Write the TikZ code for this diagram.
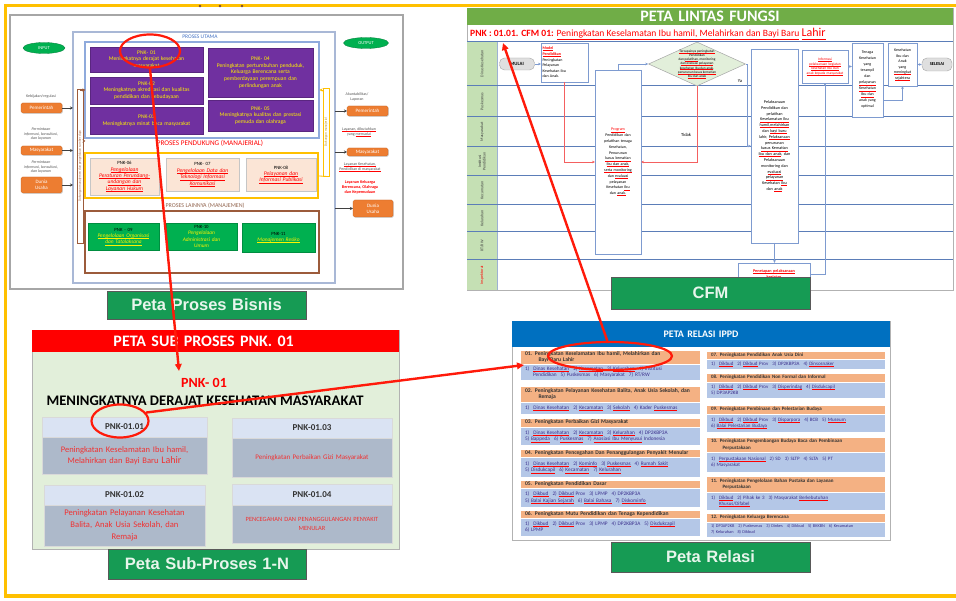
\documentclass[tikz,border=0pt]{standalone}
\usepackage{fontspec}
\setmainfont{Carlito}
\newfontfamily\tabfont{Liberation Sans}
\usetikzlibrary{arrows.meta,shapes.geometric,shadows,calc}

\definecolor{frameY}{HTML}{FFC000}
\definecolor{purp}{HTML}{7030A0}
\definecolor{ptxt}{HTML}{FFF200}
\definecolor{peach}{HTML}{FBE5D6}
\definecolor{gbox}{HTML}{00B050}
\definecolor{obox}{HTML}{ED7D31}
\definecolor{tabG}{HTML}{169B54}
\definecolor{tabT}{HTML}{E8F5EC}
\definecolor{cfmG}{HTML}{70AD47}
\definecolor{laneG}{HTML}{C5E0B4}
\definecolor{laneL}{HTML}{5B7DB8}
\definecolor{flowB}{HTML}{7E9BD0}
\definecolor{flowR}{HTML}{F46060}
\definecolor{subBody}{HTML}{E2EFDA}
\definecolor{hdrB}{HTML}{DAE3F3}
\definecolor{bodyG}{HTML}{ADB9CA}
\definecolor{subRed}{HTML}{F03232}
\definecolor{relB}{HTML}{0070C0}
\definecolor{relO}{HTML}{F4B183}
\definecolor{relBody}{HTML}{B4C7E7}
\definecolor{relTxt}{HTML}{3A2E8C}
\definecolor{brownC}{HTML}{9C5B3B}
\definecolor{blueC}{HTML}{8FAADC}
\definecolor{blueO}{HTML}{A9B8D6}
\definecolor{grayT}{HTML}{595959}
\definecolor{redA}{HTML}{FF1A0A}
\definecolor{utama}{HTML}{4472C4}

% font size shortcut
\newcommand\fs[2]{\fontsize{#1}{#2}\selectfont}
% underlines: plain (text colour) and red spell-check style
\newsavebox\rulbox
\newcommand\uln[1]{\leavevmode\sbox\rulbox{#1}\rlap{\rule[-0.45ex]{\wd\rulbox}{0.3pt}}\usebox\rulbox}
\newcommand\rul[1]{\leavevmode\sbox\rulbox{#1}\rlap{\textcolor{red}{\rule[-0.45ex]{\wd\rulbox}{0.3pt}}}\usebox\rulbox}
\newcommand\gp{\hspace{4pt}}
\newcommand\ri{\hspace*{3.5pt}}
% box from corner (x1,y1) to (x2,y2): name, x1, y1, x2, y2, style, text
\newcommand\bx[7]{%
  \pgfmathsetmacro\bxw{#4-#2}\pgfmathsetmacro\bxh{#5-#3}%
  \pgfmathsetmacro\bxt{max(#4-#2-3,1)}%
  \pgfmathsetmacro\bxcx{(#2+#4)/2}\pgfmathsetmacro\bxcy{(#3+#5)/2}%
  \node[bb,#6,minimum width=\bxw pt,minimum height=\bxh pt,text width=\bxt pt] (#1) at (\bxcx,\bxcy) {#7};}

\begin{document}
\begin{tikzpicture}[x=1pt,y=-1pt,
  bb/.style={inner xsep=1.5pt,inner ysep=0.5pt,outer sep=0pt,align=center},
  shd/.style={drop shadow={shadow xshift=0.8pt,shadow yshift=-0.8pt,opacity=0.3}},
  purpbox/.style={fill=purp,draw=purp!80!black,line width=0.4pt,text=ptxt,font=\fs{5.6}{6.6}},
  peachbox/.style={fill=peach,draw=gray!45,shd,font=\fs{5.6}{6.4}},
  greenbox/.style={fill=gbox,draw=gbox!80!black,line width=0.3pt,shd,text=ptxt,font=\fs{5.4}{6.2}},
  orangebox/.style={fill=obox,draw=obox!80!black,line width=0.3pt,rounded corners=1.5pt,text=white,font=\fs{5}{5.8},shd},
  tab/.style={fill=tabG,draw=black!65,line width=0.8pt,text=tabT,font=\tabfont\bfseries\fs{16.5}{18}},
  smallnote/.style={font=\fs{4}{4.8},text=grayT,align=center,inner sep=0},
  inarrow/.style={black!75,line width=0.7pt,-{Stealth[length=3pt,width=3pt]}},
  brarrow/.style={brownC,line width=0.6pt,-{Stealth[length=3pt,width=3pt]}},
  yarrow/.style={frameY,line width=0.6pt,-{Stealth[length=3pt,width=3pt]}},
  cfmbox/.style={draw=flowB,line width=0.5pt,fill=white,font=\fs{4}{5}},
  flow/.style={flowB,line width=0.6pt,-{Stealth[length=3pt,width=2.6pt]}},
  flowr/.style={flowR,line width=0.6pt,-{Stealth[length=3pt,width=2.6pt]}},
  lanelbl/.style={rotate=90,font=\fs{4}{4.6},text=black!75,align=center,inner sep=0},
  pill/.style={draw=gray!70,fill=gray!25,rounded corners=5pt,inner sep=0,font=\bfseries\fs{4.8}{5}},
  redarrow/.style={redA,line width=2.4pt,-{Triangle[length=7pt,width=6.5pt]}},
  redring/.style={draw=redA,line width=2.2pt,ellipse,inner sep=0},
  relhd/.style={fill=relO,draw=white,line width=0.3pt,font=\bfseries\fs{5.6}{6.6},text=black!80,align=left},
  relbd/.style={fill=relBody,draw=white,line width=0.3pt,font=\fs{5.3}{6.6},text=relTxt,align=left},
  subhd/.style={fill=hdrB,draw=white!70!gray,line width=0.4pt,shd,font=\bfseries\fs{9}{10},text=black!80},
  subbd/.style={fill=bodyG,draw=white!70!gray,line width=0.4pt,shd,text=subRed}]

\useasboundingbox (0,0) rectangle (956,601);
\fill[white] (0,0) rectangle (956,601);
\draw[frameY,line width=3.5pt] (5.5,5.5) rectangle (958,596);
\foreach \dx in {200,220,242} \fill[brownC!80!black] (\dx,6) circle (1.3);

% ---------------- business process map ----------------
\bx{pbframe}{10}{15}{403}{289}{draw=gray!70,line width=1.5pt,fill=white}{}
\bx{utamaO}{73}{32}{335}{283}{draw=blueO,line width=1.3pt}{}
\node[font=\fs{5.5}{6},text=utama,inner sep=0] (utamaL) at (200,37) {PROSES UTAMA};
\bx{utamaI}{85}{42}{319}{138}{draw=blueC,line width=1.3pt}{}
\bx{pnk01}{90}{47}{203}{72}{purpbox}{PNK- 01\\Meningkatnya derajat kesehatan\\masyarakat}
\bx{pnk02}{90}{77}{203}{104}{purpbox}{PNK-02\\Meningkatnya akreditasi dan kualitas\\pendidikan dan kebudayaan}
\bx{pnk03}{90}{107}{203}{134}{purpbox}{PNK-03\\Meningkatnya minat baca masyarakat}
\bx{pnk04}{208}{48}{313}{97}{purpbox}{PNK- 04\\Peningkatan pertumbuhan penduduk,\\Keluarga Berencana serta\\pemberdayaan perempuan dan\\perlindungan anak}
\bx{pnk05}{208}{100}{313}{131}{purpbox}{PNK- 05\\Meningkatnya kualitas dan prestasi\\pemuda dan olahraga}

\node[font=\fs{7.2}{8},text=red,inner sep=0] (pendL) at (210,143) {PROSES PENDUKUNG (MANAJERIAL)};
\bx{pendO}{85}{153}{318}{198}{draw=frameY,line width=1.5pt}{}
\bx{pnk06}{90}{158}{159}{195}{peachbox}{{\fs{4.8}{5.6}PNK-06}\\\textcolor{red}{\itshape\uln{Pengelolaan}}\\\textcolor{red}{\itshape\uln{Peraturan Perundang-}}\\\textcolor{red}{\itshape\uln{undangan dan}}\\\textcolor{red}{\itshape\uln{Layanan Hukum}}}
\bx{pnk07}{166}{158}{239}{191}{peachbox}{{\fs{4.8}{5.6}PNK- 07}\\\textcolor{red}{\itshape\uln{Pengelolaan Data dan}}\\\textcolor{red}{\itshape\uln{Teknologi Informasi}}\\\textcolor{red}{\itshape\uln{Komunikasi}}}
\bx{pnk08}{246}{158}{316}{191}{peachbox}{{\fs{4.8}{5.6}PNK-08}\\\textcolor{red}{\itshape\uln{Pelayanan dan}}\\\textcolor{red}{\itshape\uln{Informasi Publikasi}}}

\node[font=\fs{6}{7},text=brownC!70!gray,inner sep=0] (lainL) at (205,206) {PROSES LAINNYA (MANAJEMEN)};
\bx{lainO}{85}{211}{319}{273}{draw=brownC,line width=1.5pt}{}
\bx{pnk09}{88}{223}{159}{250}{greenbox}{{\fs{4.8}{5.6}\color{black}PNK - 09}\\\textit{\uln{Pengelolaan Organisasi}}\\\textit{\uln{dan Tatalaksana}}}
\bx{pnk10}{166}{223}{237}{250}{greenbox}{{\fs{4.8}{5.6}\color{black}PNK-10}\\\textit{Pengelolaan}\\\textit{Administrasi dan}\\\textit{Umum}}
\bx{pnk11}{242}{223}{315}{252}{greenbox}{{\fs{4.8}{5.6}\color{black}PNK-11}\\\textit{\uln{Manajemen Resiko}}\\[6pt]}

% support brackets
\node[draw=brownC,line width=0.6pt,rotate=90,minimum width=154,minimum height=6,inner sep=0,font=\fs{3.3}{4},text=brownC] (dukL) at (80,166) {Dukungan manajemen dan pengelolaan sumber daya};
\coordinate (dk1) at (85.5,90);
\coordinate (dk2) at (85.5,141);
\draw[brarrow] (dukL.east) |- (dk1);
\draw[brarrow] ($(dukL.south)+(0,-25)$) -- (dk2);
\node[draw=frameY,line width=0.6pt,rotate=90,minimum width=88,minimum height=6,inner sep=0,font=\fs{3.3}{4},text=frameY!70!black] (dukR) at (326,132) {Dukungan manajerial};
\coordinate (dk3) at (319.5,90);
\coordinate (dk4) at (318,176);
\draw[yarrow] ($(dukR.north)+(0,-42)$) -- (dk3);
\draw[frameY,line width=0.8pt] (dukR.west) -- (dk4);

% inputs
\node[ellipse,fill=gbox,draw=gbox!70!black,line width=0.3pt,minimum width=42,minimum height=11,inner sep=0,text=white,font=\fs{4.5}{5}] (inE) at (44,48) {INPUT};
\node[smallnote] (n1) at (41,96) {Kebijakan/regulasi};
\bx{inPem}{21}{103}{62}{113}{orangebox}{Pemerintah}
\node[smallnote,font=\itshape\fs{4}{4.8}] (n2) at (41,134) {Permintaan\\informasi, konsultasi,\\dan layanan};
\bx{inMas}{21}{146}{62}{155}{orangebox}{Masyarakat}
\node[smallnote,font=\itshape\fs{4}{4.8}] (n3) at (41,167) {Permintaan\\informasi, konsultasi,\\dan layanan};
\bx{inDU}{21}{177}{62}{193}{orangebox}{Dunia\\Usaha}
\coordinate (inA1) at (73,108);
\coordinate (inA2) at (73,150.5);
\coordinate (inA3) at (73,185);
\draw[inarrow] (inPem) -- (inA1);
\draw[inarrow] (inMas) -- (inA2);
\draw[inarrow] (inDU) -- (inA3);

% outputs
\node[ellipse,fill=gbox,draw=gbox!70!black,line width=0.3pt,minimum width=45,minimum height=11,inner sep=0,text=white,font=\fs{4.5}{5}] (outE) at (366,43) {OUTPUT};
\node[smallnote] (o1) at (357,97) {Akuntabilitas/\\Laporan};
\bx{outPem}{347}{106}{388}{116}{orangebox}{Pemerintah}
\node[smallnote] (o2) at (359,132) {\rul{Layanan, dibutuhkan}\\yang \rul{memadai}};
\bx{outMas}{347}{148}{388}{156}{orangebox}{Masyarakat}
\node[smallnote] (o3) at (360,167) {\rul{Layanan Kesehatan,}\\\rul{Pendidikan di masyarakat}};
\node[smallnote,text=red,font=\bfseries\fs{4.2}{4.9}] (o4) at (360,187) {Layanan Keluarga\\Berencana, Olahraga\\dan Kepemudaan};
\bx{outDU}{353}{200}{393}{217}{orangebox}{Dunia\\Usaha}
\coordinate (oA1) at (335,111);
\coordinate (oA2) at (335,152);
\coordinate (oA3) at (335,208.5);
\draw[inarrow] (oA1) -- (outPem);
\draw[inarrow] (oA2) -- (outMas);
\draw[inarrow] (oA3) -- (outDU);

\node[redring,minimum width=60,minimum height=33] (ring1) at (150,51) {};
\bx{tabPB}{107}{291}{306}{319}{tab}{Peta Proses Bisnis}

% ---------------- cross-functional map ----------------
\bx{cfmP}{467}{8}{953}{290}{draw=gray!60,line width=0.8pt,fill=white}{}
\fill[laneG] (467,42) rectangle (497,290);
\draw[laneL!60,line width=0.5pt] (497,42) -- (497,290);
\foreach \yy in {42,86,117,147,176,205,232,260}
  \draw[laneL,line width=1pt] (467,\yy) -- (953,\yy);
\draw[gray!60,line width=0.8pt] (467,290) -- (953,290);
\bx{cfmH}{467}{8}{953}{25}{fill=cfmG,text=white,font=\bfseries\fs{16}{17}}{PETA LINTAS FUNGSI}
\node[anchor=west,inner sep=0,font=\fs{9.6}{11},text=red] (cfmTitle) at (470,34) {\textbf{PNK : 01.01. CFM 01:} \rul{Peningkatan Keselamatan Ibu hamil, Melahirkan dan Bayi Baru} {\fs{12}{13}\rul{Lahir}}};

\node[lanelbl] (ln1) at (482,64) {Dinas Kesehatan};
\node[lanelbl] (ln2) at (482,101.5) {Puskesmas};
\node[lanelbl] (ln3) at (482,132) {Masyarakat};
\node[lanelbl] (ln4) at (482,161.5) {Institusi\\Pendidikan};
\node[lanelbl] (ln5) at (482,190.5) {Kecamatan};
\node[lanelbl] (ln6) at (482,218.5) {Kelurahan};
\node[lanelbl] (ln7) at (482,246) {RT/RW};
\node[lanelbl,text=red] (ln8) at (482,275) {Inspektorat};

\node[pill,minimum width=35,minimum height=12] (mulai) at (517,64) {MULAI};
\bx{c1}{541}{43}{588}{82}{cfmbox,align=left,font=\fs{4}{5.6}}{\textcolor{red}{\bfseries\rul{Model}}\\\textcolor{red}{\bfseries\rul{Pendidikan}}\\Peningkatan\\Pelayanan\\Kesehatan Ibu\\dan Anak.}
\bx{c2}{595}{70}{641}{254}{cfmbox,font=\fs{4}{5.8}}{\textcolor{red}{\rul{Program}}\\Pendidikan dan\\pelatihan tenaga\\Kesehatan,\\Penurunan\\\rul{kasus kematian}\\\rul{Ibu dan anak,}\\\rul{serta monitoring}\\dan \rul{evaluasi}\\pelayanan\\Kesehatan \rul{Ibu}\\dan \rul{anak.}}
\node[diamond,draw=gray!70,fill=subBody,line width=0.5pt,minimum width=97,minimum height=44,inner sep=0] (dia) at (697,64) {};
\node[font=\fs{3.5}{4.2},align=center,inner sep=0] (diaT) at (dia.center) {\rul{Tercapainya peningkatan}\\Pendidikan\\dan \rul{pelatihan}, monitoring\\\rul{dan evaluasi pelayanan}\\\rul{kesehatan Ibu dan anak},\\\rul{penurunan kasus kematian}\\\rul{Ibu dan anak}};
\bx{c3}{751}{49}{798}{243}{cfmbox,font=\fs{4.2}{5.8}}{Pelaksanaan\\Pendidikan dan\\pelatihan\\\rul{Keselamatan Ibu}\\\rul{hamil,melahirkan}\\dan \rul{bayi baru}\\lahir, \rul{Pelaksanaan}\\penurunan\\\rul{kasus Kematian}\\\rul{Ibu dan anak}, dan\\Pelaksanaan\\monitoring dan\\\rul{evaluasi}\\\rul{pelayanan}\\Kesehatan \rul{Ibu}\\dan \rul{anak}}
\bx{c6}{738}{263}{810}{286}{cfmbox,text=red,font=\bfseries\fs{4.2}{6}}{\rul{Penetapan pelaksanaan}\\\rul{kegiatan}}
\bx{c4}{802}{50}{848}{83}{cfmbox,text=red,font=\fs{3.6}{4.5}}{\rul{Informasi}\\\rul{pelaksanaan kegiatan}\\\rul{kesehatan Ibu dan}\\\rul{anak kepada masyarakat}}
\bx{c5}{852}{43}{883}{117}{cfmbox,font=\fs{4}{6}}{Tenaga\\Kesehatan\\yang\\terampil\\dan\\\rul{pelayanan}\\\rul{Kesehatan}\\\rul{Ibu dan}\\anak yang\\optimal}
\bx{c7}{888}{43}{917}{86}{cfmbox,font=\fs{4}{5.6}}{Kesehatan\\Ibu dan\\Anak\\yang\\\rul{meningkat}\\\rul{sejahtera}}
\node[pill,minimum width=30,minimum height=13,font=\bfseries\fs{4.5}{5}] (selesai) at (937,64.5) {SELESAI};

\draw[flow] (mulai) -- (c1.west |- mulai);
\draw[flowr] (c1.south) |- (c2.west);
\draw[flowr] (dia.south) |- (c2.east);
\draw[flow] (c2.north) |- (dia.west);
\draw[flow] (dia.east) -- ++(2,0) |- (c3.west);
\node[font=\fs{4.6}{5},inner sep=0] (ya) at (740,81) {Ya};
\node[font=\fs{4.6}{5},inner sep=0] (tidak) at (686,135) {Tidak};
\draw[flow] (c3.south) -- (c3.south |- c6.north);
\draw[flow] (c6.east) -| (c4.south);
\draw[flow] (c4.east) -- (c5.west |- c4.east);
\draw[flow] ($(c5.south east)+(0,-17)$) -| (c7.south);
\draw[flow] (c7.east) -- (selesai.west |- c7.east);

\bx{tabCFM}{611}{277}{810}{309}{tab}{CFM}

% ---------------- sub-process map ----------------
\bx{subP}{32}{330}{399}{549}{fill=subBody,draw=gray!60,line width=0.8pt,shd}{}
\bx{subH}{32}{330}{399}{352}{fill=red,text=white,font=\bfseries\fs{16}{17},align=left}{\hspace*{80pt}PETA SUB PROSES PNK. 01}
\node[text=red,font=\bfseries\fs{14}{15},inner sep=0] (subPnk) at (204,383) {PNK- 01};
\node[font=\bfseries\fs{14.6}{16},inner sep=0] (subTitle) at (205,401) {MENINGKATNYA DERAJAT KESEHATAN MASYARAKAT};
\bx{s1h}{42}{417}{207}{437}{subhd}{PNK-01.01}
\bx{s1b}{42}{437}{207}{474}{subbd,font=\fs{8.5}{11}}{Peningkatan Keselamatan Ibu hamil,\\Melahirkan dan Bayi Baru {\fs{10}{11}Lahir}\\[3pt]}
\bx{s3h}{232}{418}{392}{438}{subhd}{PNK-01.03}
\bx{s3b}{232}{438}{392}{477}{subbd,font=\fs{7}{8}}{Peningkatan Perbaikan Gizi Masyarakat}
\bx{s2h}{44}{485}{205}{505}{subhd}{PNK-01.02}
\bx{s2b}{44}{505}{205}{546}{subbd,font=\fs{8.6}{12}}{Peningkatan Pelayanan Kesehatan\\Balita, Anak Usia Sekolah, dan\\Remaja}
\bx{s4h}{232}{484}{392}{505}{subhd}{PNK-01.04}
\bx{s4b}{232}{505}{392}{543}{subbd,font=\fs{6.4}{9}}{PENCEGAHAN DAN PENANGGULANGAN PENYAKIT\\MENULAR}
\node[redring,minimum width=57,minimum height=33] (ring2) at (120,421) {};
\bx{tabSub}{108}{549}{306}{579}{tab}{Peta Sub-Proses 1-N}

% ---------------- relation map ----------------
\bx{relP}{512}{321}{890}{540}{draw=gray!60,line width=0.8pt,fill=white,shd}{}
\bx{relH}{512}{321}{890}{347}{fill=relB,text=white,font=\bfseries\fs{10}{11}}{PETA RELASI IPPD}

\bx{r1h}{520}{350}{700}{364}{relhd}{\ri 01. Peningkatan Keselamatan Ibu hamil, Melahirkan dan\\\hspace*{17pt}Bayi Baru Lahir}
\bx{r1b}{520}{364}{700}{380}{relbd}{\ri 1)\gp \rul{Dinas Kesehatan}\gp 2) \rul{Kecamatan}\gp 3) \rul{Kelurahan}\gp 4) Institusi\\\ri\hspace*{8pt}Pendidikan\gp 5) Puskesmas\gp 6) Masyarakat\gp 7) RT/RW}
\bx{r2h}{520}{386}{700}{402}{relhd}{\ri 02. Peningkatan Pelayanan Kesehatan Balita, Anak Usia Sekolah, dan\\\hspace*{17pt}Remaja}
\bx{r2b}{520}{402}{700}{414}{relbd}{\ri 1)\gp \rul{Dinas Kesehatan}\gp 2) \rul{Kecamatan}\gp 3) \rul{Sekolah}\gp 4) Kader \rul{Puskesmas}}
\bx{r3h}{520}{418}{700}{427}{relhd}{\ri 03. Peningkatan Perbaikan Gizi Masyarakat}
\bx{r3b}{520}{427}{700}{445}{relbd}{\ri 1)\gp \rul{Dinas Kesehatan}\gp 2) \rul{Kecamatan}\gp 3) \rul{Kelurahan}\gp 4) DP2KBP3A\\\ri 5) \rul{Bappeda}\gp 6) \rul{Puskesmas}\gp 7) \rul{Asosiasi Ibu Menyusui} Indonesia}
\bx{r4h}{520}{449}{700}{457}{relhd}{\ri 04. Peningkatan Pencegahan Dan Penanggulangan Penyakit Menular}
\bx{r4b}{520}{457}{700}{477}{relbd}{\ri 1)\gp \rul{Dinas Kesehatan}\gp 2) \rul{Kominfo}\gp 3) \rul{Puskesmas}\gp 4) \rul{Rumah Sakit}\\\ri 5) \rul{Disdukcapil}\gp 6) \rul{Kecamatan}\gp 7) \rul{Kelurahan}}
\bx{r5h}{520}{480}{700}{488}{relhd}{\ri 05. Peningkatan Pendidikan Dasar}
\bx{r5b}{520}{488}{700}{507}{relbd}{\ri 1)\gp \rul{Dikbud}\gp 2) \rul{Dikbud} Prov\gp 3) LPMP\gp 4) DP2KBP3A\\\ri 5) \rul{Balai Kajian Sejarah}\gp 6) \rul{Balai Bahasa}\gp 7) \rul{Diskominfo}}
\bx{r6h}{520}{510}{700}{518}{relhd}{\ri 06. Peningkatan Mutu Pendidikan dan Tenaga Kependidikan}
\bx{r6b}{520}{518}{700}{536}{relbd}{\ri 1)\gp \rul{Dikbud}\gp 2) \rul{Dikbud} Prov\gp 3) LPMP\gp 4) DP2KBP3A\gp 5) \rul{Disdukcapil}\\\ri 6) LPMP}

\bx{r7h}{706}{351}{885}{359}{relhd,font=\bfseries\fs{5}{6}}{\ri 07. Peningkatan Pendidikan Anak Usia Dini}
\bx{r7b}{706}{359}{885}{369}{relbd,font=\fs{5}{6}}{\ri 1)\gp \rul{Dikbud}\gp 2) \rul{Dikbud} Prov\gp 3) DP2KBP3A\gp 4) \rul{Dinsosnaker}}
\bx{r8h}{706}{373}{885}{382}{relhd,font=\bfseries\fs{5}{6}}{\ri 08. Peningkatan Pendidikan Non Formal dan Informal}
\bx{r8b}{706}{382}{885}{398}{relbd,font=\fs{5}{6.4}}{\ri 1)\gp \rul{Dikbud}\gp 2) \rul{Dikbud} Prov\gp 3) \rul{Disperindag}\gp 4) \rul{Disdukcapil}\\\ri 5) DP3AP2KB}
\bx{r9h}{706}{405}{885}{414}{relhd,font=\bfseries\fs{5}{6}}{\ri 09. Peningkatan Pembinaan dan Pelestarian Budaya}
\bx{r9b}{706}{414}{885}{432}{relbd,font=\fs{5}{6.4}}{\ri 1)\gp \rul{Dikbud}\gp 2) \rul{Dikbud} Prov\gp 3) \rul{Disparpora}\gp 4) BCB\gp 5) \rul{Museum}\\\ri 6) \rul{Balai Pelestarian Budaya}}
\bx{r10h}{706}{437}{885}{452}{relhd,font=\bfseries\fs{5}{6.4}}{\ri 10. Peningkatan Pengembangan Budaya Baca dan Pembinaan\\\hspace*{15pt}Perpustakaan}
\bx{r10b}{706}{452}{885}{472}{relbd,font=\fs{5}{6.4}}{\ri 1)\gp \rul{Perpustakaan Nasional}\gp 2) SD\gp 3) SLTP\gp 4) SLTA\gp 5) PT\\\ri 6) Masyarakat}
\bx{r11h}{706}{476}{885}{492}{relhd,font=\bfseries\fs{5}{6.4}}{\ri 11. Peningkatan Pengelolaan Bahan Pustaka dan Layanan\\\hspace*{15pt}Perpustakaan}
\bx{r11b}{706}{492}{885}{510}{relbd,font=\fs{5}{6.4}}{\ri 1)\gp \rul{Dikbud}\gp 2) Pihak ke 3\gp 3) Masyarakat \rul{Berkebutuhan}\\\ri\hspace*{8pt}\rul{Khusus/Difabel}}
\bx{r12h}{706}{513}{885}{522}{relhd,font=\bfseries\fs{5}{6}}{\ri 12. Peningkatan Keluarga Berencana}
\bx{r12b}{706}{522}{885}{537}{relbd,font=\fs{4.3}{5.6}}{\ri 1) DP3AP2KB\gp 2) Puskesmas\gp 3) Dinkes\gp 4) Dikbud\gp 5) BKKBN\gp 6) Kecamatan\\\ri 7) Kelurahan\gp 8) Dikbud}

\node[redring,minimum width=124,minimum height=28] (ring3) at (610,356) {};
\bx{tabRel}{611}{542}{810}{572}{tab}{Peta Relasi}

% ---------------- red trace arrows ----------------
\coordinate (tipA) at (179,371);
\coordinate (tipB) at (524,365);
\coordinate (tipC) at (503,43);
\draw[redarrow] (ring1.south) -- (tipA);
\draw[redarrow] (ring2.18) -- (tipB);
\draw[redarrow] (ring3.100) -- (tipC);
\end{tikzpicture}
\end{document}
